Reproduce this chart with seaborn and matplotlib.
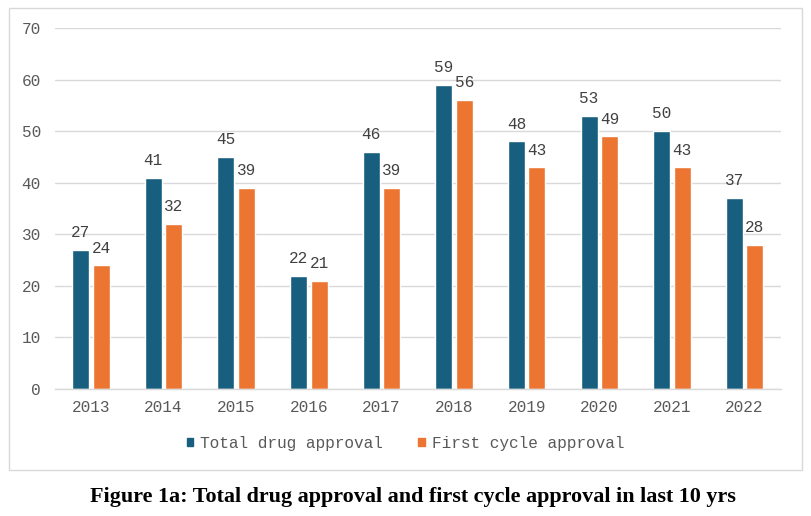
import matplotlib
matplotlib.use("Agg")
import matplotlib.pyplot as plt
import seaborn as sns
import pandas as pd
from matplotlib.patches import Rectangle

years = ["2013", "2014", "2015", "2016", "2017", "2018", "2019", "2020", "2021", "2022"]
total_drug_approval = [27, 41, 45, 22, 46, 59, 48, 53, 50, 37]
first_cycle_approval = [24, 32, 39, 21, 39, 56, 43, 49, 43, 28]
series_names = ["Total drug approval", "First cycle approval"]
y_ticks = [0, 10, 20, 30, 40, 50, 60, 70]
title = "Figure 1a: Total drug approval and first cycle approval in last 10 yrs"

df = pd.DataFrame({
    "year": years * 2,
    "value": total_drug_approval + first_cycle_approval,
    "series": [series_names[0]] * len(years) + [series_names[1]] * len(years),
})

sns.set_theme(style="white")
plt.rcParams["font.family"] = ["Liberation Mono", "DejaVu Sans"]

fig = plt.figure(figsize=(8.11, 5.16), dpi=100)
ax = fig.add_axes([0.0674, 0.2461, 0.8954, 0.6996])

colors = ["#175e7f", "#ec7532"]
sns.barplot(data=df, x="year", y="value", hue="series", order=years,
            hue_order=series_names, palette=colors, width=0.565, gap=0.17,
            ax=ax, legend=False, saturation=1)

ax.set_ylim(0, 70)
ax.set_xlim(-0.5, len(years) - 0.5)
ax.set_yticks(y_ticks)
ax.set_xlabel("")
ax.set_ylabel("")
ax.yaxis.grid(True, color="#d9d9d9", linewidth=1)
ax.set_axisbelow(True)
for s in ["top", "right", "left"]:
    ax.spines[s].set_visible(False)
ax.spines["bottom"].set_color("#d9d9d9")
ax.spines["bottom"].set_linewidth(1)
ax.tick_params(axis="both", length=0, labelsize=11.6, labelcolor="#595959")
ax.tick_params(axis="x", pad=8)
ax.tick_params(axis="y", pad=10)

for cont in ax.containers:
    ax.bar_label(cont, padding=7, fontsize=11.6, color="#404040")

# legend
handles = [Rectangle((0, 0), 1, 1, color=c) for c in colors]
leg = fig.legend(handles, series_names, loc="center", bbox_to_anchor=(0.5, 0.141),
                 ncol=2, frameon=False, fontsize=11.6, handlelength=0.42,
                 handleheight=0.42, handletextpad=0.42, columnspacing=2.2)
for t in leg.get_texts():
    t.set_color("#595959")

# outer border
fig.patches.append(Rectangle((9 / 811, 1 - 470 / 516), (802 - 9) / 811, (470 - 8) / 516,
                             transform=fig.transFigure, fill=False,
                             edgecolor="#d9d9d9", linewidth=1))

fig.text(413 / 811, 1 - 497 / 516, title, ha="center", va="center",
         fontsize=15.9, fontweight="bold", family=["Liberation Serif", "DejaVu Serif"],
         color="black")

fig.savefig("out.png", dpi=100)
